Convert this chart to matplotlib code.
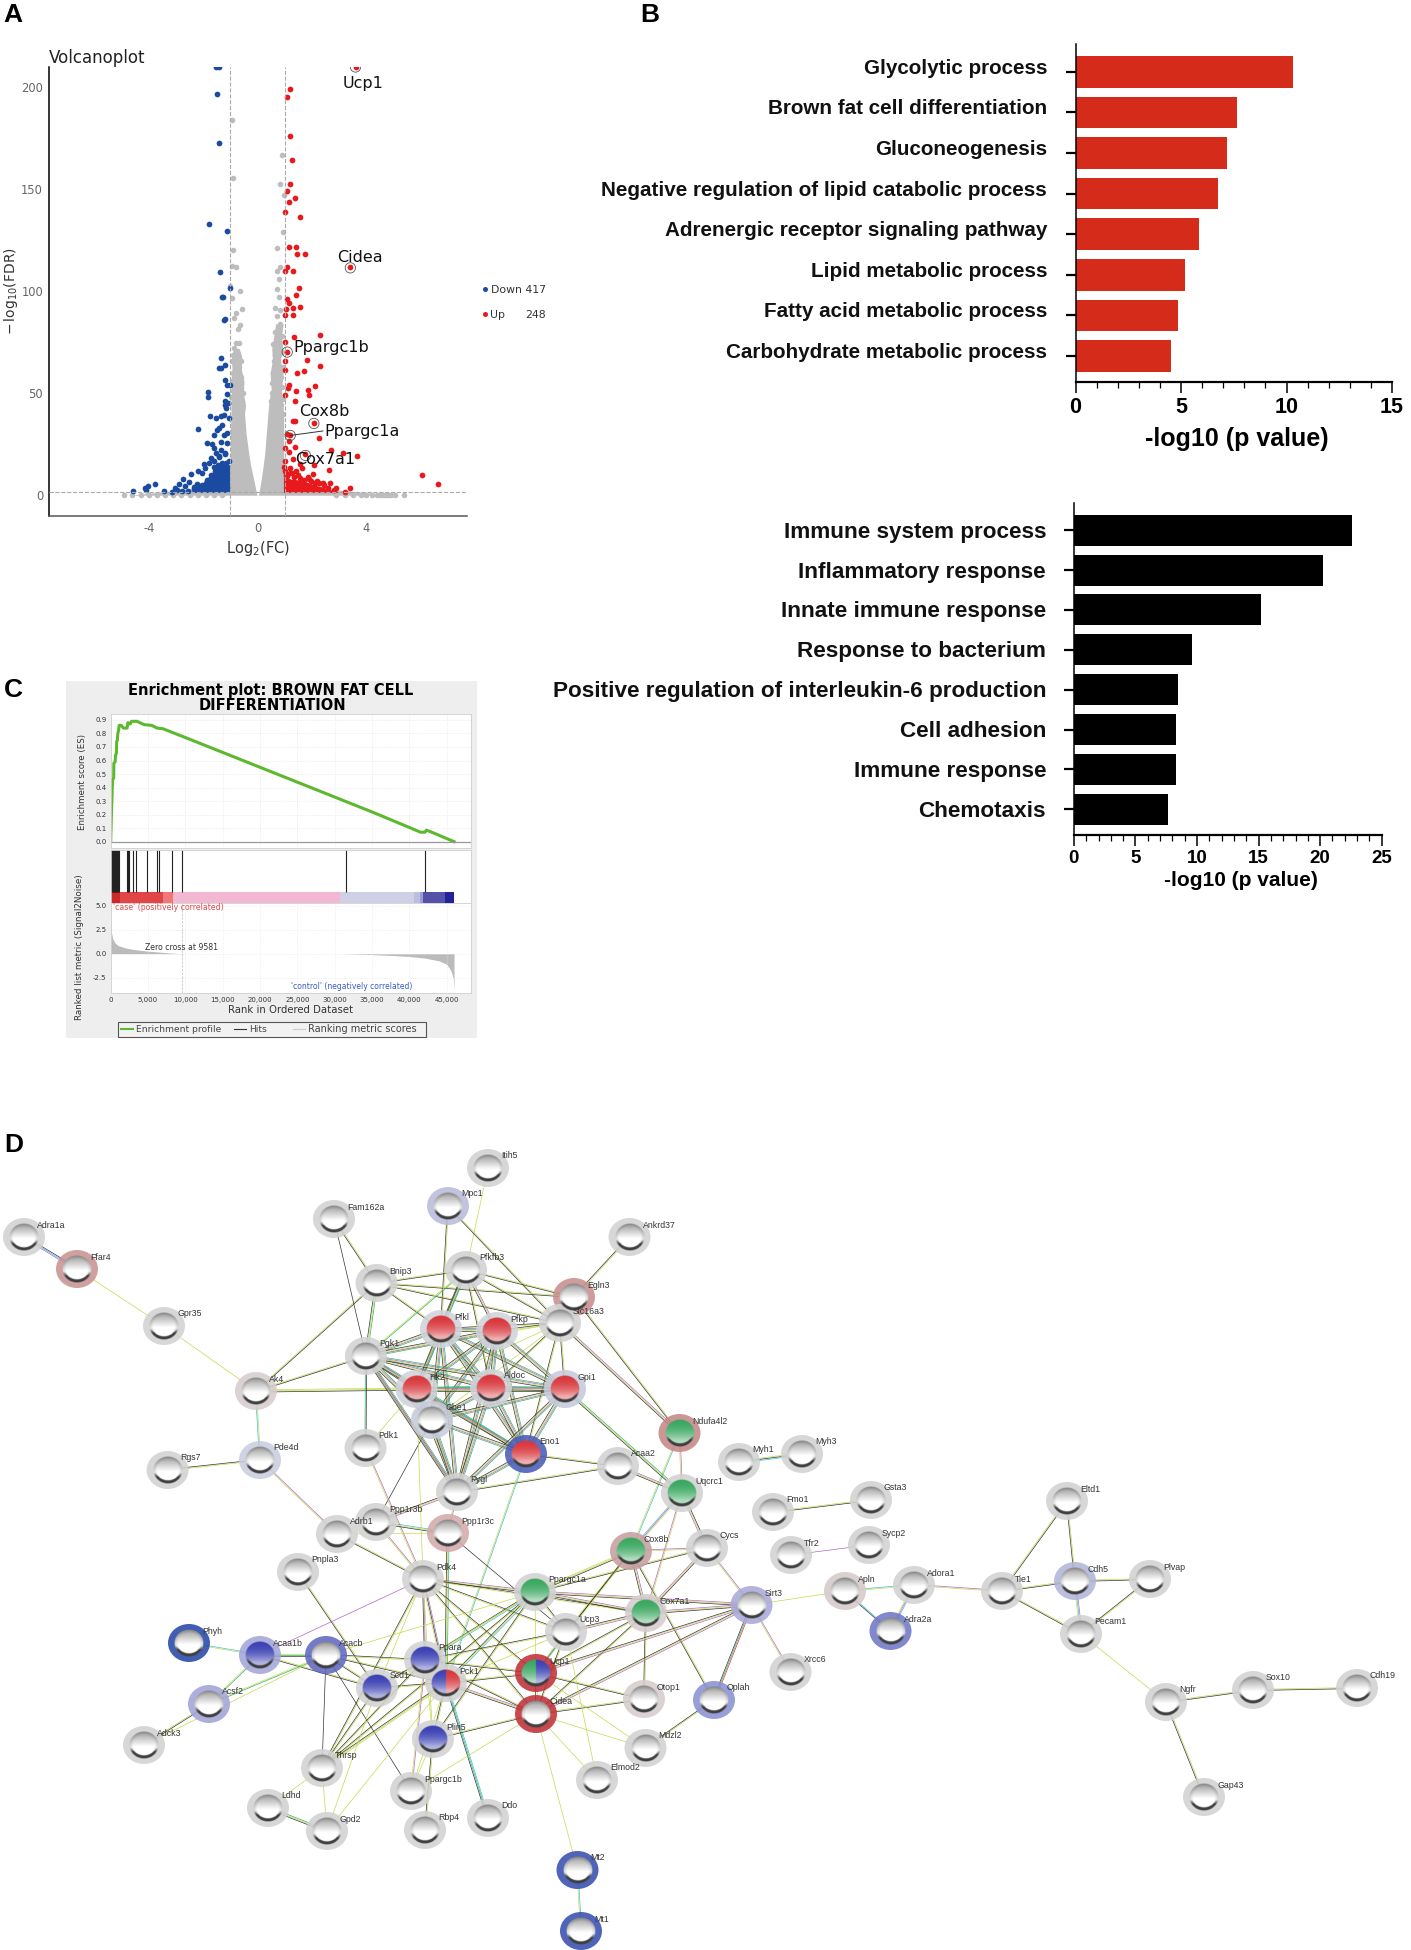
"""Four-panel figure: volcano plot, GO bars, GSEA enrichment plot, STRING network."""
from itertools import combinations

import numpy as np
import matplotlib
matplotlib.use("Agg")
import matplotlib.pyplot as plt
from matplotlib.collections import LineCollection
from matplotlib.colors import to_rgb
from matplotlib.patches import Ellipse, Rectangle
from matplotlib.transforms import ScaledTranslation

W, H = 1411, 1950
NARROW = ["Liberation Sans Narrow", "Liberation Sans", "DejaVu Sans"]
plt.rcParams["mathtext.fontset"] = "dejavusans"
plt.rcParams["axes.unicode_minus"] = False

# ---- panel A data: log2(FC), -log10(FDR)
blue_x = [-1.51, -1.42, -1.50, -1.40, -1.77, -1.12, -1.38, -1.01, -1.31, -1.26, -1.18, -1.22, -1.33, -1.19, -1.42,
          -1.34, -1.18, -1.12, -1.03, -1.81, -1.81, -1.13, -1.18, -1.21, -1.10, -1.15, -1.76, -2.19, -1.52, -1.35,
          -1.22, -1.06, -1.40, -1.48, -1.30, -1.13, -1.60, -1.22, -1.85, -1.67, -1.33, -1.13, -1.59, -1.52, -1.35,
          -1.19, -1.72, -1.43, -1.59, -1.98, -1.78, -1.92, -2.18, -2.05, -2.44, -2.73, -2.90, -2.51, -2.34, -3.77,
          -4.02, -4.15, -3.43, -4.59, -3.16, -2.97, -2.77, -2.57, -2.24, -1.72, -1.85, -1.46, -4.10, -3.05, -2.65,
          -1.05, -1.15, -1.30, -1.45, -1.55, -1.65, -1.75, -1.90, -2.05, -2.20, -2.35, -1.20, -1.40, -1.60]
blue_y = [210, 210, 197, 172.6, 133, 129.5, 109.5, 101.6, 97, 97, 86.3, 86, 67.5, 63.9, 62.3,
          62.6, 56.7, 54.2, 54.2, 50.7, 48, 49.6, 46, 44.2, 45, 42.9, 39, 32.6, 38, 38.9,
          39.2, 37.7, 32.8, 31.9, 34.5, 30.6, 29.6, 29.6, 25.4, 25.2, 26.1, 25.7, 23.1, 20.8, 22.2,
          20.5, 18.2, 18.7, 17, 15.2, 15.6, 13.1, 11.7, 10.9, 10.5, 7.9, 5.3, 6.5, 3.9, 5.4,
          4.4, 3.5, 2.3, 2.1, 1.8, 2.6, 2.3, 2.1, 5.6, 10, 7.4, 13.5, 2.6, 3.4, 4.6,
          17, 16, 16, 15, 12, 10, 8, 6, 5, 4, 3, 20, 19, 14]
red_x = [3.60, 1.19, 1.08, 1.19, 1.26, 1.19, 1.08, 1.36, 1.14, 1.01, 1.57, 1.15, 1.40, 1.44, 1.76, 1.09, 1.01, 1.30,
         3.41, 1.51, 1.40, 1.08, 1.14, 1.06, 1.30, 1.57, 1.02, 1.30, 2.30, 1.33, 1.01, 1.08, 1.02, 1.80, 2.30, 1.02,
         1.46, 1.69, 2.10, 1.17, 1.13, 1.42, 1.84, 1.89, 1.00, 1.38, 1.30, 1.39, 2.06, 1.10, 1.19, 2.26, 1.17, 1.01,
         1.39, 2.70, 3.14, 3.66, 1.76, 1.17, 1.30, 1.01, 2.09, 1.56, 2.61, 1.19, 1.43, 1.63, 2.02, 6.06, 6.64, 3.40,
         3.20, 2.65, 2.87, 1.05, 1.25, 1.85, 2.20, 2.40,
         1.00, 1.10, 1.35, 1.55, 1.70, 1.95, 2.10, 2.25, 2.45, 2.60, 2.80, 1.20, 0.98, 1.50, 1.90]
red_y = [210, 199.3, 195.4, 176.4, 164.3, 152.4, 149.4, 145.7, 143.6, 139, 136.4, 121.5, 121.5, 118.2, 118.2, 111.9, 109.8, 109.8,
         111.7, 101.8, 98.4, 96.1, 94.4, 91.2, 92, 92.3, 88.3, 88.3, 78.5, 77.4, 75.3, 70.4, 65.7, 66.5, 63.4, 61.3,
         59.9, 60.9, 53.8, 54.1, 52.4, 51.3, 51.8, 49.2, 49, 46, 36.3, 36.3, 35.2, 30, 29.6, 28.2, 26.6, 23.1,
         23.6, 22.1, 20.7, 19.1, 20.1, 21.4, 17.9, 16.6, 14.7, 15.2, 12.6, 13.5, 11.7, 13.5, 10.2, 9.8, 5.3, 3.7,
         1.4, 6.1, 3.3, 10, 11, 9, 7, 6,
         12, 9.5, 9, 8.5, 7.5, 7, 6, 6, 5, 3.5, 2.5, 11, 14, 10, 8]
gray_x = [-0.93, -0.89, -0.91, -0.93, -0.80, -1.00, -0.63, -0.93, -0.59, -0.80, -0.87, -0.64, -0.73, -0.80, -0.70, -0.85,
          -0.92, -0.75, -0.60, -0.95, -0.82, -0.68, -0.90, -0.72, -0.62, -0.94, -0.80, -0.66, -0.90, -0.75, -0.55, -0.96,
          -0.85, -0.70, -0.58, -0.92, -0.78, -0.62,
          0.91, 0.84, 0.97, 0.94, 0.71, 0.84, 0.71, 0.78, 0.71, 0.78, 0.64, 0.84, 0.71, 0.84, 0.64, 0.71, 0.58, 0.64,
          0.80, 0.90, 0.70, 0.60, 0.88, 0.76, 0.56, 0.92, 0.68, 0.54, 0.86, 0.74, 0.52, 0.90, 0.62, 0.94, 0.78, 0.50,
          0.58, 0.72, 0.86, 0.66, 0.92, 0.80, 0.56,
          -4.90, -4.60, -4.30, -4.00, -3.70, -3.40, -3.10, -2.80, -2.50, -2.20, -1.90, -1.60, -1.30,
          2.90, 3.20, 3.50, 3.80, 4.00, 4.20, 4.40, 4.50, 4.60, 4.70, 4.80, 4.90, 5.05, 5.40]
gray_y = [184, 155.7, 120.3, 112.4, 111.7, 102.8, 100, 96.8, 91.4, 89.3, 86.7, 83.5, 81.4, 74.8, 74.8, 72,
          69, 70, 66, 66, 64, 63, 60, 60, 58, 56, 55, 54, 51, 51, 50, 48, 47, 47, 46, 45, 45, 44,
          166.7, 152.5, 147, 129, 121, 112, 110, 106, 101, 97, 92, 91, 88, 84, 80, 77, 74, 69,
          82, 78, 73, 66, 70, 66, 60, 63, 60, 55, 58, 54, 50, 53, 50, 47, 48, 46, 45, 44, 44, 42, 40, 38, 43,
          0, 0, 0, 0, 0, 0, 0, 0, 0, 0, 0, 0, 0,
          0, 0, 0, 0, 0, 0, 0, 0, 0, 0, 0, 0, 0, 0]
# dense clouds: (y level, inner edge, outer edge)
mass_left_y = [0, 5, 10, 15, 20, 30, 40, 44, 50, 56, 62, 68, 72]
mass_left_in = [-0.02, -0.10, -0.18, -0.26, -0.32, -0.42, -0.48, -0.44, -0.52, -0.50, -0.60, -0.58, -0.68]
mass_left_out = [-4.7, -1.0, -1.0, -1.0, -1.0, -1.0, -0.98, -0.98, -0.96, -0.98, -0.94, -0.96, -0.88]
mass_right_y = [0, 5, 10, 20, 30, 40, 46, 52, 60, 66, 72, 78, 84]
mass_right_in = [0.03, 0.10, 0.16, 0.26, 0.32, 0.38, 0.42, 0.50, 0.46, 0.55, 0.52, 0.60, 0.66]
mass_right_out = [5.0, 0.96, 0.96, 0.96, 0.96, 0.96, 0.92, 0.88, 0.94, 0.84, 0.92, 0.88, 0.94]
blue_fill_x = [-2.40, -2.00, -1.70, -1.40, -1.02]
blue_fill_top = [2.5, 4.5, 7.5, 15, 15]
red_fill_x = [0.95, 1.20, 1.50, 1.80, 2.10, 2.40, 2.70, 2.95]
red_fill_top = [9, 8, 7.5, 6.5, 5, 4, 2.5, 1.6]
gene_x = [3.60, 3.41, 1.09, 2.07, 1.20, 1.76]
gene_y = [210, 111.5, 70.2, 35.2, 29.3, 19.5]

# ---- panel B data
up_terms = ["Glycolytic process", "Brown fat cell differentiation", "Gluconeogenesis",
            "Negative regulation of lipid catabolic process", "Adrenergic receptor signaling pathway",
            "Lipid metabolic process", "Fatty acid metabolic process", "Carbohydrate metabolic process"]
up_vals = [10.29, 7.67, 7.2, 6.77, 5.87, 5.2, 4.84, 4.53]
down_terms = ["Immune system process", "Inflammatory response", "Innate immune response", "Response to bacterium",
              "Positive regulation of interleukin-6 production", "Cell adhesion", "Immune response", "Chemotaxis"]
down_vals = [22.56, 20.26, 15.16, 9.57, 8.48, 8.26, 8.26, 7.63]

# ---- panel C data
es_rank = [0, 50, 120, 200, 260, 400, 420, 600, 640, 760, 800, 900, 950, 1050, 1130, 1400, 1700, 2200, 2300, 2600,
           2800, 3500, 4500, 5500, 6200, 7000, 10000, 15000, 20000, 25000, 30000, 35000, 40000, 41500, 42100, 42300,
           43000, 46000]
es_val = [0, .11, .25, .38, .46, .47, .58, .59, .64, .65, .74, .75, .80, .82, .86, .86, .84, .84, .88, .87,
          .89, .89, .865, .86, .84, .835, .77, .66, .55, .44, .33, .22, .105, .07, .07, .085,
          .07, 0]
hit_ranks = [90, 180, 270, 360, 450, 540, 625, 700, 760, 830, 890, 960, 1030, 1120, 2230, 2300, 2410, 2950, 3350,
             4820, 6160, 6520, 8170, 9600, 31490, 42070]
band_edges = [0, 1250, 7050, 8300, 30700, 40700, 41400, 41800, 44800, 46000]
band_colors = ["#cc2a2a", "#e24545", "#f07878", "#f2b8d2", "#cfcfe6", "#bdbde0", "#9c9cd2", "#5550a8", "#22229c"]
metric_pos_rank = [0, 100, 300, 600, 1000, 2000, 3000, 4500, 6000, 8000, 9581]
metric_pos_val = [3.8, 2.2, 1.5, 1.1, .85, .6, .45, .3, .2, .07, 0]
metric_neg_rank = [30700, 33000, 35000, 38000, 40000, 42000, 44000, 45000, 45600, 45900, 46000]
metric_neg_val = [0, -.05, -.1, -.2, -.3, -.45, -.75, -1.1, -1.8, -2.6, -3.9]

# ---- panel D data: layout
node_names = ["Adra1a", "Ffar4", "Gpr35", "Fam162a", "Bnip3", "Itih5", "Mpc1", "Pfkfb3", "Ankrd37", "Egln3", "Slc16a3",
              "Pfkl", "Pfkp", "Pgk1", "Ak4", "Hk2", "Aldoc", "Gpi1", "Gbe1", "Pdk1", "Eno1", "Ndufa4l2", "Pde4d", "Rgs7",
              "Acaa2", "Uqcrc1", "Pygl", "Ppp1r3b", "Adrb1", "Ppp1r3c", "Pnpla3", "Pdk4", "Ppargc1a", "Cox8b", "Cycs",
              "Cox7a1", "Sirt3", "Ucp3", "Phyh", "Acaa1b", "Acacb", "Ppara", "Pck1", "Scd1", "Ucp1", "Cidea", "Otop1",
              "Oplah", "Xrcc6", "Acsf2", "Adck3", "Plin5", "Mdzl2", "Thrsp", "Elmod2", "Ppargc1b", "Ldhd", "Gpd2", "Rbp4",
              "Ddo", "Mt2", "Mt1", "Myh1", "Myh3", "Fmo1", "Gsta3", "Tfr2", "Sycp2", "Apln", "Adora1", "Adra2a", "Tie1",
              "Eltd1", "Cdh5", "Plvap", "Pecam1", "Ngfr", "Sox10", "Cdh19", "Gap43"]
node_x = [24, 77, 164, 334, 376.5, 488, 448, 466, 629.5, 574, 560,
          441, 497, 366, 256, 416.5, 491, 565, 432, 365.5, 526, 679.5, 260, 167.6,
          618, 682, 457, 376, 337, 448, 298, 423, 535, 631, 707,
          646, 751.5, 566, 189, 260, 326, 425, 446, 377, 536, 536, 644,
          714, 790.5, 209, 144, 433, 645.5, 322, 597, 411, 268, 327, 425,
          488, 577.5, 581, 739, 802, 773, 871, 791, 869, 845, 914, 890.5, 1002,
          1067, 1075, 1150, 1081, 1166, 1253, 1357, 1204]
node_y = [1237, 1269, 1326, 1219, 1283, 1168, 1206, 1270, 1237, 1297, 1323,
          1329, 1331, 1356, 1391, 1389, 1388, 1389, 1420, 1448, 1454, 1433, 1460, 1470,
          1466, 1493, 1492, 1522, 1534, 1533, 1572, 1579, 1592, 1551, 1548,
          1613, 1605, 1632, 1643, 1655, 1655, 1660, 1683, 1688, 1673, 1714, 1699,
          1700, 1672, 1704, 1745, 1739, 1748, 1768, 1780, 1791, 1808, 1831, 1830,
          1818, 1870, 1931, 1462, 1454, 1512, 1500, 1555, 1545, 1591, 1585, 1631, 1591,
          1501, 1581, 1579, 1634, 1702, 1690, 1688, 1797]
halo_colors = {"Ffar4": "#c99393", "Mpc1": "#b9bcd8", "Egln3": "#c98f8f", "Ndufa4l2": "#c68888", "Ak4": "#d6cdcd",
               "Pde4d": "#c9cde0", "Gbe1": "#c8ccdc", "Hk2": "#d0d3da", "Aldoc": "#d0d3da", "Gpi1": "#c6cadc",
               "Pfkl": "#d0d3da", "Pfkp": "#d0d3da", "Eno1": "#4a5cb8", "Cox8b": "#c8a0a0", "Ppp1r3c": "#d4aaaa",
               "Cox7a1": "#d6cdcd", "Sirt3": "#a9a9d9", "Phyh": "#2848a8", "Acaa1b": "#a3a6d8", "Acacb": "#6068c0",
               "Acsf2": "#a3a3d8", "Ucp1": "#c23038", "Cidea": "#c23038", "Otop1": "#d6cdcd", "Oplah": "#8a91d2",
               "Mt2": "#3850b0", "Mt1": "#3850b0", "Apln": "#d6caca", "Adra2a": "#7078c8", "Cdh5": "#b2b5d8"}
RED, GREEN, BLUE = "#d8383c", "#3aa860", "#3c42b4"
ball_colors = {"Pfkl": (RED, RED), "Pfkp": (RED, RED), "Hk2": (RED, RED), "Aldoc": (RED, RED), "Gpi1": (RED, RED),
               "Eno1": (RED, RED), "Ndufa4l2": (GREEN, GREEN), "Uqcrc1": (GREEN, GREEN), "Cox8b": (GREEN, GREEN),
               "Ppargc1a": (GREEN, GREEN), "Cox7a1": (GREEN, GREEN), "Acaa1b": (BLUE, BLUE), "Ppara": (BLUE, BLUE),
               "Scd1": (BLUE, BLUE), "Plin5": (BLUE, BLUE), "Pck1": (BLUE, RED), "Ucp1": (GREEN, BLUE)}
# each edge: two nodes and its evidence channels, one letter per parallel line
edges = """Adra1a Ffar4 KCM|Ffar4 Gpr35 Y|Gpr35 Ak4 Y|Ak4 Bnip3 YK|Ak4 Pgk1 YK|Ak4 Hk2 YYK|Ak4 Pde4d YC|Pde4d Rgs7 YK
Pde4d Adrb1 MY|Fam162a Bnip3 YK|Fam162a Pgk1 K|Itih5 Pfkfb3 Y|Mpc1 Pfkl YK|Mpc1 Slc16a3 YK|Ankrd37 Egln3 YK|Bnip3 Egln3 YK
Bnip3 Slc16a3 YK|Bnip3 Pgk1 GYK|Bnip3 Pfkl YK|Bnip3 Pfkfb3 YK|Pfkfb3 Egln3 YK|Pfkfb3 Slc16a3 YK|Pfkfb3 Pfkl CMYK|Pfkfb3 Pfkp MYK
Pfkfb3 Pgk1 GY|Pfkfb3 Aldoc YK|Pfkfb3 Hk2 GYK|Egln3 Ndufa4l2 YK|Slc16a3 Ndufa4l2 MYK|Slc16a3 Pfkl YK|Slc16a3 Pfkp YK|Slc16a3 Pgk1 Y
Slc16a3 Hk2 Y|Slc16a3 Aldoc YK|Slc16a3 Gpi1 YK|Slc16a3 Gbe1 Y|Slc16a3 Eno1 YK|Ndufa4l2 Uqcrc1 MY|Ndufa4l2 Cox8b CY|Gpi1 Uqcrc1 GYK
Eno1 Acaa2 YK|Pygl Acaa2 YK|Acaa2 Uqcrc1 MYK|Eno1 Pck1 CY|Gbe1 Ppp1r3b K|Pdk1 Pgk1 GK|Pdk1 Hk2 Y|Pdk1 Pdk4 MY|Pgk1 Pygl MK
Pygl Ppp1r3b MYK|Pygl Ppp1r3c MY|Ppp1r3b Ppp1r3c CYK|Ppp1r3b Pdk4 MY|Adrb1 Ppp1r3c Y|Adrb1 Pdk4 YK|Ppp1r3c Pck1 GYK|Ppp1r3c Ucp3 K
Hk2 Pdk4 Y|Pnpla3 Scd1 YK|Pdk4 Ppargc1a MYK|Pdk4 Cox7a1 KY|Pdk4 Ucp3 KY|Pdk4 Ppara MK|Pdk4 Ucp1 KY|Pdk4 Pck1 MKY|Pdk4 Cidea KY
Pdk4 Acaa1b M|Pdk4 Scd1 Y|Pdk4 Plin5 Y|Pdk4 Thrsp YK|Ppargc1a Cox8b YYK|Ppargc1a Cox7a1 MYK|Ppargc1a Cycs YK|Ppargc1a Sirt3 MYK
Ppargc1a Ucp3 KY|Ppargc1a Pck1 CYK|Ppargc1a Ppara CYK|Ppargc1a Ucp1 Y|Ppargc1a Scd1 Y|Ppargc1a Acacb Y|Ppargc1a Plin5 YK
Ppargc1a Thrsp YK|Cox8b Cycs MY|Cox8b Cox7a1 MYK|Cox8b Ucp3 KY|Cox8b Uqcrc1 CMY|Cox8b Ucp1 YK|Cox8b Oplah YK|Cox7a1 Cycs MYK
Cox7a1 Uqcrc1 MY|Cox7a1 Sirt3 MYK|Cox7a1 Ucp3 MYK|Cox7a1 Otop1 YK|Cox7a1 Ucp1 YK|Cox7a1 Cidea YK|Cycs Sirt3 MY|Cycs Uqcrc1 MYK
Sirt3 Oplah RGK|Sirt3 Xrcc6 MY|Sirt3 Apln Y|Sirt3 Ucp1 MYK|Sirt3 Cidea MYK|Ucp3 Ucp1 CY|Ucp3 Ppara YK|Ucp3 Pck1 Y|Ucp3 Cidea YK
Ucp1 Cidea YK|Ucp1 Otop1 YK|Cidea Otop1 YK|Cidea Mdzl2 Y|Ucp1 Mdzl2 Y|Ucp3 Elmod2 Y|Cidea Elmod2 Y|Cidea Mt2 Y|Mt2 Mt1 CY
Oplah Mdzl2 YK|Phyh Acaa1b CY|Acaa1b Acacb YGK|Acaa1b Acsf2 GY|Acaa1b Scd1 YK|Acacb Acsf2 GY|Acacb Adck3 Y|Adck3 Acsf2 YK
Acacb Ppara KY|Acacb Pck1 YK|Acacb Scd1 YK|Acacb Thrsp K|Acacb Ppargc1b K|Ppara Pck1 YK|Ppara Scd1 YK|Ppara Plin5 Y|Pck1 Scd1 YK
Pck1 Plin5 YK|Pck1 Thrsp YYK|Pck1 Gpd2 Y|Pck1 Cidea MYK|Pck1 Ucp1 YK|Pck1 Ddo CGK|Pck1 Ppargc1b Y|Ppara Ucp1 YK|Ppara Thrsp YK
Ppara Cidea YK|Scd1 Thrsp YK|Scd1 Gpd2 Y|Plin5 Ppargc1b Y|Ppara Ppargc1b MY|Plin5 Rbp4 YK|Plin5 Cidea YK|Cidea Ppargc1b Y
Ldhd Thrsp Y|Ldhd Gpd2 GYK|Thrsp Gpd2 Y|Myh1 Myh3 YKC|Fmo1 Gsta3 YK|Tfr2 Sycp2 M|Apln Adora1 CY|Apln Adra2a CK|Adora1 Adra2a CMY
Adora1 Tie1 MY|Tie1 Eltd1 YK|Tie1 Cdh5 YK|Tie1 Pecam1 YK|Eltd1 Cdh5 YK|Cdh5 Plvap YK|Cdh5 Pecam1 MCY|Plvap Pecam1 YK|Pecam1 Ngfr Y
Ngfr Sox10 YK|Sox10 Cdh19 YK|Ngfr Gap43 YK"""
glyco_clique = ["Pfkl", "Pfkp", "Pgk1", "Hk2", "Aldoc", "Gpi1", "Eno1", "Gbe1", "Pygl"]
edge_colors = {"Y": "#c6d94c", "K": "#333333", "M": "#b266c8", "C": "#3cc0e0", "G": "#2db56e", "R": "#ee3030"}


def px_axes(fig, left, top, right, bottom, **kw):
    return fig.add_axes([left / W, 1 - bottom / H, (right - left) / W, (bottom - top) / H], **kw)


def sphere_sprite(left, right, n=48):
    v, u = np.mgrid[-1:1:n * 1j, -1:1:n * 1j]
    r = np.sqrt(u ** 2 + v ** 2)
    base = np.where(u[..., None] < 0, to_rgb(left), to_rgb(right))
    t = np.clip((v + 1) / 1.55, 0, 1)
    if left == "#ffffff":
        shade = 0.62 + 0.38 * np.clip((v + 0.95) / 1.05, 0, 1)
        shade = shade * (1 - 0.18 * np.clip((r - 0.72) / 0.28, 0, 1))
        rgb = np.repeat(shade[..., None], 3, axis=2)
    else:
        rgb = base + (1 - base) * (t[..., None] ** 2 * 0.6)
    ring = np.sqrt(u ** 2 + (v + 0.12) ** 2)
    soft = np.clip((ring - 0.85) / 0.05, 0, 1)[..., None]
    lower = np.clip((v - 0.2) / 0.3, 0, 1)[..., None]
    rgb = rgb * (1 - soft * lower) + 0.25 * soft * lower
    alpha = np.clip((1 - r) * n / 2, 0, 1)
    return np.dstack([np.clip(rgb, 0, 1), alpha])


def draw_volcano(fig):
    ax = px_axes(fig, 48.6, 67, 466.8, 516)
    ax.set_xlim(-7.68, 7.69)
    ax.set_ylim(-10.2, 210)
    gray, blue, red = "#bdbdbd", "#1a4ba0", "#e8191c"
    ax.fill_betweenx(mass_left_y, mass_left_out, mass_left_in, color=gray, lw=0, zorder=2)
    ax.fill_betweenx(mass_right_y, mass_right_in, mass_right_out, color=gray, lw=0, zorder=2)
    ax.scatter(gray_x, gray_y, s=16, color=gray, lw=0, zorder=2)
    ax.fill_between(blue_fill_x, 1.3, blue_fill_top, color=blue, lw=0, zorder=3)
    ax.fill_between(red_fill_x, 1.3, red_fill_top, color=red, lw=0, zorder=3)
    ax.scatter(blue_x, blue_y, s=17, color=blue, lw=0, zorder=3)
    ax.scatter(red_x, red_y, s=17, color=red, lw=0, zorder=3)
    ax.axhline(1.4, color="#aaaaaa", lw=0.8, ls="--", zorder=4)
    for v in (-1, 1):
        ax.axvline(v, color="#aaaaaa", lw=0.8, ls="--", zorder=4)
    ax.scatter(gene_x, gene_y, s=55, facecolor="none", edgecolor="#555555", lw=0.6, zorder=5)
    ax.plot([1.2, 2.4], [29.3, 31.5], color="#333333", lw=0.7, zorder=5)
    for label, x, y, ha in [("Ucp1", 3.86, 201.8, "center"), ("Cidea", 3.75, 116.5, "center"),
                            ("Ppargc1b", 1.30, 72.5, "left"), ("Cox8b", 2.47, 41, "center"),
                            ("Ppargc1a", 2.45, 31, "left"), ("Cox7a1", 2.5, 17.3, "center")]:
        ax.text(x, y, label, ha=ha, va="center", fontsize=11.5, color="#111111", zorder=6)
    ax.set_xticks([-4, 0, 4])
    ax.set_yticks([0, 50, 100, 150, 200])
    ax.tick_params(labelsize=8.3, colors="#666666", length=0, pad=4)
    for side in ("top", "right"):
        ax.spines[side].set_visible(False)
    ax.spines["left"].set_linewidth(1.1)
    ax.spines["bottom"].set_linewidth(1.1)
    ax.spines["bottom"].set_color("#555555")
    ax.set_title("Volcanoplot", loc="left", fontsize=12, color="#222222", pad=3)
    ax.set_xlabel(r"$\mathrm{Log_2(FC)}$", fontsize=10.5, color="#333333", labelpad=3)
    ax.set_ylabel(r"$-\,\mathrm{log_{10}(FDR)}$", fontsize=10, color="#333333", labelpad=1)


def draw_bars(fig, box, terms, vals, xmax, major, color, sizes):
    ax = px_axes(fig, *box)
    y = np.arange(len(terms))
    ax.barh(y, vals, height=sizes["bar"], color=color, lw=0)
    ax.set_xlim(0, xmax)
    ax.set_ylim(sizes["ylim"])
    ax.set_yticks(y, terms, family=NARROW, weight="bold", fontsize=sizes["label"], color="#111111")
    ax.set_xticks(np.arange(0, xmax + 1, major))
    ax.set_xticks(np.arange(0, xmax + 1, 1), minor=True)
    ax.tick_params(axis="y", length=7, width=1.6, pad=sizes["pad"])
    ax.tick_params(axis="x", length=8, width=1.1, pad=3)
    ax.tick_params(axis="x", which="minor", length=4, width=0.9)
    for t in ax.get_xticklabels():
        t.set(family=NARROW, weight="bold", fontsize=sizes["tick"])
    for side in ("top", "right"):
        ax.spines[side].set_visible(False)
    ax.spines["left"].set_linewidth(1.1)
    ax.spines["bottom"].set_linewidth(1.6)
    ax.set_xlabel("-log10 (p value)", family=NARROW, weight="bold", fontsize=sizes["xlabel"], labelpad=sizes["labelpad"])
    ax.xaxis.label.set_x(sizes["label_x"])
    lift = ScaledTranslation(0, sizes["lift"] / 100, fig.dpi_scale_trans)
    for t in ax.get_yticklabels():
        t.set_transform(t.get_transform() + lift)


def draw_gsea(fig, ov):
    ov.add_patch(Rectangle((66, 681), 411, 357, color="#eeeeee", lw=0, zorder=0))
    ov.text(271, 690, "Enrichment plot: BROWN FAT CELL", ha="center", va="center", fontsize=10.5, weight="bold", zorder=5)
    ov.text(272, 705, "DIFFERENTIATION", ha="center", va="center", fontsize=10.5, weight="bold", zorder=5)
    xmax = 48230
    es = px_axes(fig, 110.7, 714, 470.7, 848)
    es.plot(es_rank, es_val, color="#5cb82e", lw=2.2)
    es.axhline(0, color="#999999", lw=0.9)
    es.set_xlim(0, xmax)
    es.set_ylim(-0.047, 0.944)
    es.set_yticks(np.arange(0, 0.91, 0.1))
    es.set_xticks(np.arange(0, 45001, 5000), [])
    es.grid(True, color="#e2e2e2", lw=0.5, ls=":")
    es.tick_params(labelsize=5, length=0, pad=3, colors="#333333")

    hits = px_axes(fig, 110.7, 850, 470.7, 903.3)
    hits.vlines(hit_ranks, 11, 53, color="#222222", lw=0.8)
    hits.broken_barh(list(zip(band_edges[:-1], np.diff(band_edges))), (0, 11), facecolors=band_colors, lw=0)
    hits.set_xlim(0, xmax)
    hits.set_ylim(0, 53)
    hits.set_xticks([])
    hits.set_yticks([])

    metric = px_axes(fig, 110.7, 903.3, 470.7, 992.7)
    metric.fill_between(metric_pos_rank, 0, metric_pos_val, color="#bbbbbb", lw=0)
    metric.fill_between(metric_neg_rank, 0, metric_neg_val, color="#bbbbbb", lw=0)
    metric.axvline(9581, color="#bbbbbb", lw=0.5, ls="--")
    metric.set_xlim(0, xmax)
    metric.set_ylim(-4.09, 5.28)
    metric.set_yticks([-2.5, 0, 2.5, 5], ["-2.5", "0.0", "2.5", "5.0"])
    metric.set_xticks(np.arange(0, 45001, 5000), [f"{v:,}" for v in range(0, 45001, 5000)])
    metric.grid(True, color="#e6e6e6", lw=0.5, ls=":")
    metric.tick_params(labelsize=5, length=0, pad=3, colors="#333333")
    metric.text(357, 4.86, "'case' (positively correlated)", color="#e04a4a", fontsize=5.6, va="center")
    metric.text(4600, 0.66, "Zero cross at 9581", color="#333333", fontsize=5.6, va="center")
    metric.text(24160, -3.39, "'control' (negatively correlated)", color="#3a5cc0", fontsize=5.5, va="center")
    for a in (es, hits, metric):
        for s in a.spines.values():
            s.set_color("#cfcfcf")
            s.set_linewidth(0.6)
    ov.text(83, 782, "Enrichment score (ES)", rotation=90, ha="center", va="center", fontsize=6.2, color="#333333", zorder=5)
    ov.text(80, 947, "Ranked list metric (Signal2Noise)", rotation=90, ha="center", va="center", fontsize=6.3, color="#333333", zorder=5)
    ov.text(291, 1010, "Rank in Ordered Dataset", ha="center", va="center", fontsize=7.3, color="#333333", zorder=5)
    ov.add_patch(Rectangle((117.7, 1021.7), 308, 15, fc="#f2f2f2", ec="#555555", lw=0.8, zorder=2))
    ov.plot([121, 133], [1029, 1029], color="#5cb82e", lw=1.5, zorder=3)
    ov.text(136, 1029, "Enrichment profile", va="center", fontsize=6.6, color="#444444", zorder=5)
    ov.plot([234, 246], [1029, 1029], color="#333333", lw=0.8, zorder=3)
    ov.text(249, 1029, "Hits", va="center", fontsize=6.6, color="#444444", zorder=5)
    ov.plot([293, 305], [1029, 1029], color="#cccccc", lw=0.8, zorder=3)
    ov.text(308, 1029, "Ranking metric scores", va="center", fontsize=7, color="#444444", zorder=5)


def draw_network(ov):
    pos = {n: (x, y) for n, x, y in zip(node_names, node_x, node_y)}
    links = [line.split() for row in edges.split("\n") for line in row.split("|")]
    links += [[a, b, "GMYK"] for a, b in combinations(glyco_clique, 2)]
    segs, cols = [], []
    for a, b, kinds in links:
        (x0, y0), (x1, y1) = pos[a], pos[b]
        d = np.hypot(x1 - x0, y1 - y0)
        nx, ny = -(y1 - y0) / d, (x1 - x0) / d
        for i, k in enumerate(kinds):
            off = (i - (len(kinds) - 1) / 2) * 1.1
            segs.append([(x0 + nx * off, y0 + ny * off), (x1 + nx * off, y1 + ny * off)])
            cols.append(edge_colors[k])
    ov.add_collection(LineCollection(segs, colors=cols, linewidths=0.5, zorder=1))
    sprites = {}
    for name, x, y in zip(node_names, node_x, node_y):
        ov.add_patch(Ellipse((x, y), 42, 38, fc=halo_colors.get(name, "#d2d2d2"), ec="none", alpha=0.88, zorder=2))
        key = ball_colors.get(name, ("#ffffff", "#ffffff"))
        if key not in sprites:
            sprites[key] = sphere_sprite(*key)
        ov.imshow(sprites[key], extent=(x - 15, x + 15, y + 14, y - 14), aspect="auto", zorder=3, interpolation="bilinear")
        ov.text(x + 13, y - 12, name, fontsize=6.3, family="Liberation Sans", color="#333333", va="center", zorder=4)


fig = plt.figure(figsize=(W / 100, H / 100), dpi=100, facecolor="white")
ov = fig.add_axes([0, 0, 1, 1], zorder=-1)
ov.axis("off")

draw_volcano(fig)
for dot_y, dot_c, texts in [(288.6, "#1a4ba0", [("Down 417", 491)]), (313.6, "#e8191c", [("Up", 490), ("248", 525)])]:
    ov.scatter([485], [dot_y], s=13, color=dot_c, lw=0, zorder=3)
    for s, tx in texts:
        ov.text(tx, dot_y + 1, s, fontsize=7.8, color="#333333", va="center", zorder=5)

draw_bars(fig, (1075.6, 44, 1392, 382), up_terms, up_vals, 15, 5, "#d52b1a",
          dict(bar=0.776, ylim=(7.64, -0.686), label=14.9, tick=15.5, xlabel=18, labelpad=6, pad=13.5, label_x=0.51, lift=5.5))
draw_bars(fig, (1073.9, 503, 1381.7, 835), down_terms, down_vals, 25, 5, "#000000",
          dict(bar=0.777, ylim=(7.645, -0.682), label=16.2, tick=13.5, xlabel=15, labelpad=3, pad=13, label_x=0.543, lift=0.5))
draw_gsea(fig, ov)
draw_network(ov)

ov.set_xlim(0, W)
ov.set_ylim(H, 0)
for letter, x, y in [("A", 3, 15), ("B", 640, 15), ("C", 4, 690), ("D", 4, 1145)]:
    ov.text(x, y, letter, fontsize=19, weight="bold", family="Liberation Sans", va="center", zorder=6)

fig.savefig("out.png", dpi=100)
